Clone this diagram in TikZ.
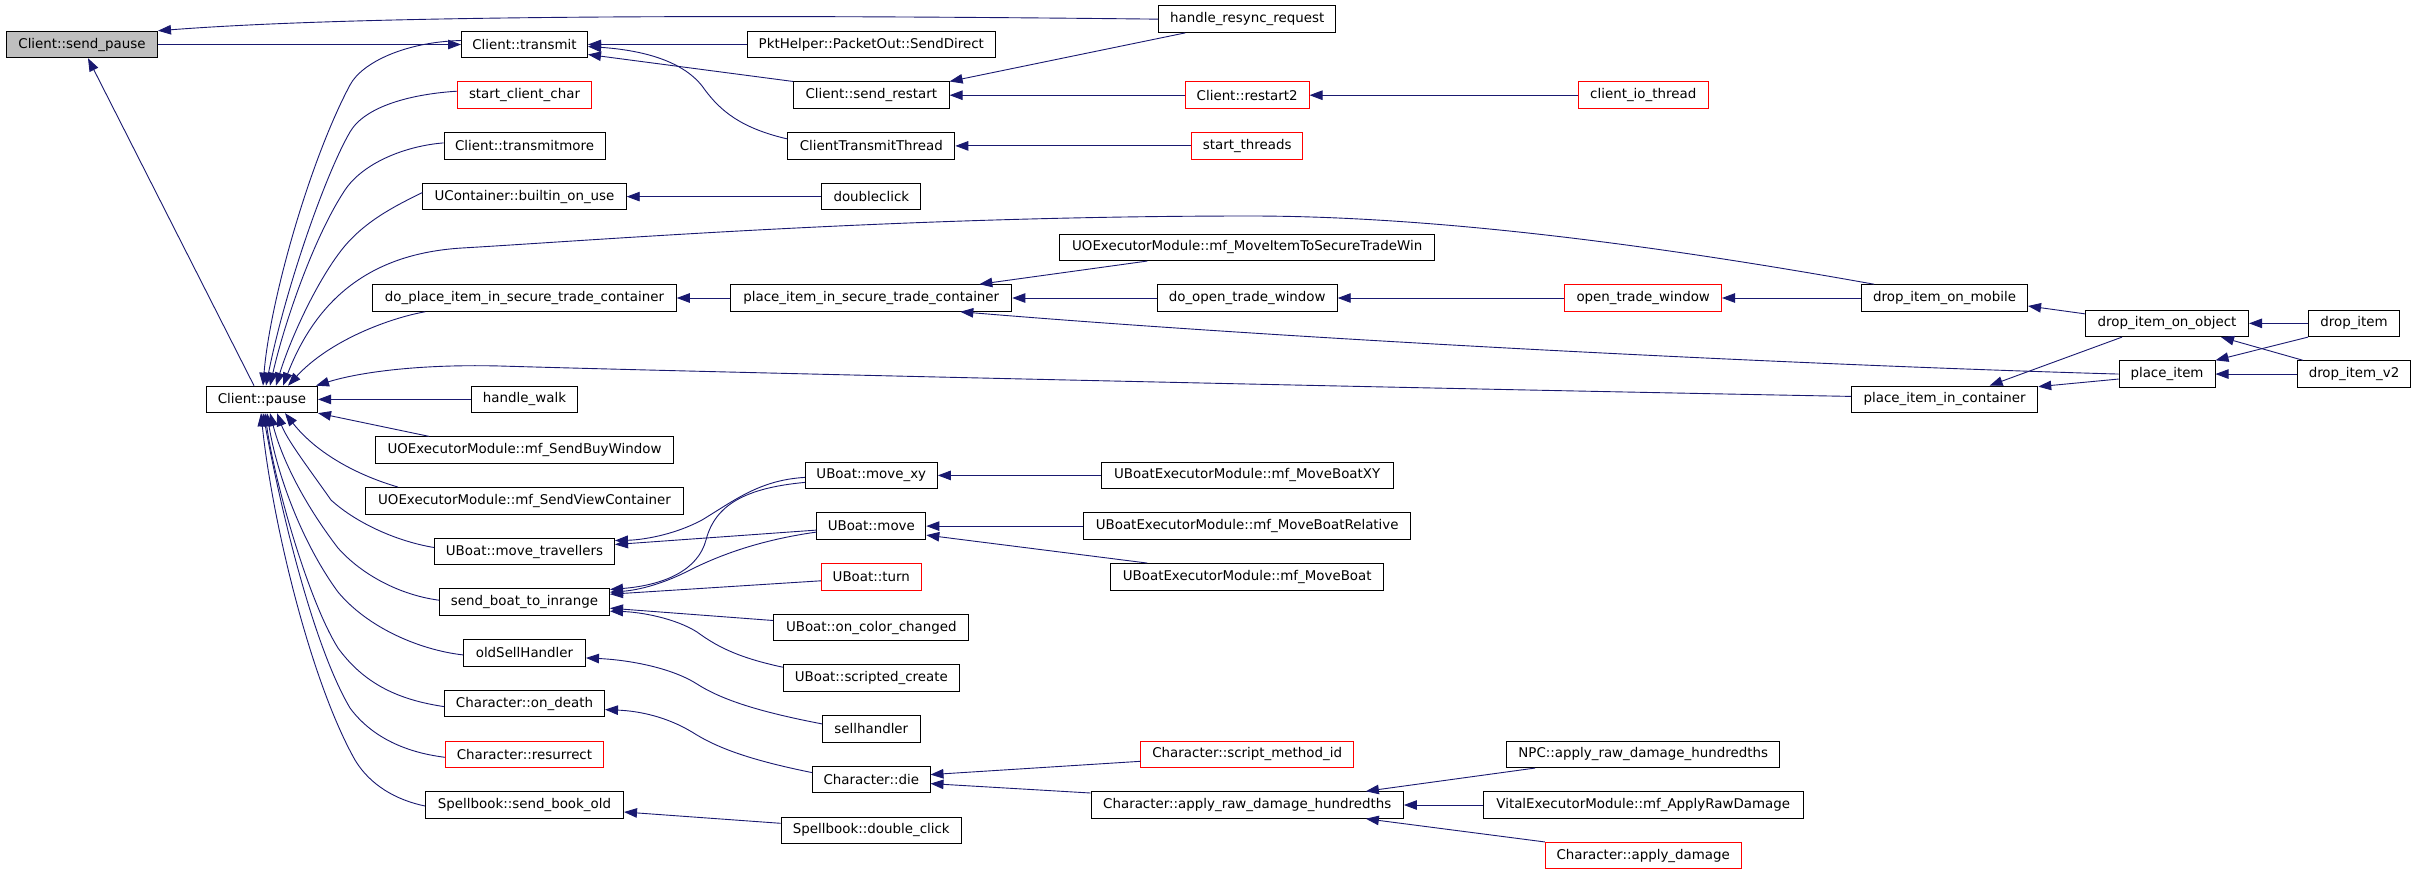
\documentclass[tikz,border=0pt]{standalone}
\usepackage{fontspec}
\newfontfamily\dgfont{DejaVu Sans}
\usetikzlibrary{arrows.meta,calc}
\definecolor{edgecol}{RGB}{25,25,112}
\definecolor{rootfill}{RGB}{191,191,191}
\begin{document}
\begin{tikzpicture}[x=1pt,y=-1pt,
  box/.style={draw=black, line width=1pt, rectangle, minimum height=26.5pt, inner sep=0pt, font={\dgfont\fontsize{13.4}{15}\selectfont}, text=black},
  redbox/.style={box, draw=red},
  rootbox/.style={box, fill=rootfill},
  edge/.style={draw=edgecol, line width=0.9pt, -{Triangle[length=13pt,width=9.5pt]}}]
\fill[white] (0,0) rectangle (2416,873);
\useasboundingbox (0,0) rectangle (2416,873);

% column A/B
\node[rootbox, minimum width=151pt] (sp) at (82,44.5) {Client::send\_pause};
\node[box, minimum width=111pt] (pause) at (262,399.4) {Client::pause};
% column C
\node[box, minimum width=126pt] (tr) at (524.5,44.5) {Client::transmit};
\node[redbox, minimum width=134pt] (scc) at (524.5,95.2) {start\_client\_char};
\node[box, minimum width=161pt] (tm) at (524.5,145.9) {Client::transmitmore};
\node[box, minimum width=203.4pt] (bou) at (524.5,196.6) {UContainer::builtin\_on\_use};
\node[box, minimum width=303.5pt] (dp) at (524.5,298) {do\_place\_item\_in\_secure\_trade\_container};
\node[box, minimum width=106pt] (hw) at (524.5,399.4) {handle\_walk};
\node[box, minimum width=298pt] (sbw) at (524.5,450.1) {UOExecutorModule::mf\_SendBuyWindow};
\node[box, minimum width=318pt] (svc) at (524.5,500.8) {UOExecutorModule::mf\_SendViewContainer};
\node[box, minimum width=180pt] (mt) at (524.5,551.5) {UBoat::move\_travellers};
\node[box, minimum width=170pt] (sb) at (524.5,602.2) {send\_boat\_to\_inrange};
\node[box, minimum width=122pt] (os) at (524.5,652.9) {oldSellHandler};
\node[box, minimum width=160pt] (od) at (524.5,703.6) {Character::on\_death};
\node[redbox, minimum width=158pt] (res) at (524.5,754.3) {Character::resurrect};
\node[box, minimum width=198pt] (sbo) at (524.5,805) {Spellbook::send\_book\_old};
% column D
\node[box, minimum width=248pt] (pkt) at (871.3,44.5) {PktHelper::PacketOut::SendDirect};
\node[box, minimum width=155.6pt] (sr) at (871.3,95.2) {Client::send\_restart};
\node[box, minimum width=167pt] (ctt) at (871.3,145.9) {ClientTransmitThread};
\node[box, minimum width=99pt] (dc) at (871.3,196.6) {doubleclick};
\node[box, minimum width=281pt] (pist) at (871.3,298) {place\_item\_in\_secure\_trade\_container};
\node[box, minimum width=132pt] (mxy) at (871.3,475.4) {UBoat::move\_xy};
\node[box, minimum width=109pt] (mv) at (871.3,526.1) {UBoat::move};
\node[redbox, minimum width=100pt] (turn) at (871.3,576.8) {UBoat::turn};
\node[box, minimum width=195.3pt] (occ) at (871.3,627.5) {UBoat::on\_color\_changed};
\node[box, minimum width=176pt] (sc) at (871.3,678.2) {UBoat::scripted\_create};
\node[box, minimum width=97.4pt] (sh) at (871.3,728.9) {sellhandler};
\node[box, minimum width=117.4pt] (die) at (871.3,779.6) {Character::die};
\node[box, minimum width=180.3pt] (dbc) at (871.3,830.3) {Spellbook::double\_click};
% column E
\node[box, minimum width=177pt] (hr) at (1247.2,19.15) {handle\_resync\_request};
\node[redbox, minimum width=123.6pt] (r2) at (1247.2,95.2) {Client::restart2};
\node[redbox, minimum width=111.5pt] (st) at (1247.2,145.9) {start\_threads};
\node[box, minimum width=375pt] (mi) at (1247.2,247.3) {UOExecutorModule::mf\_MoveItemToSecureTradeWin};
\node[box, minimum width=180pt] (dot) at (1247.2,298) {do\_open\_trade\_window};
\node[box, minimum width=291.6pt] (mbxy) at (1247.2,475.4) {UBoatExecutorModule::mf\_MoveBoatXY};
\node[box, minimum width=327.3pt] (mbr) at (1247.2,526.1) {UBoatExecutorModule::mf\_MoveBoatRelative};
\node[box, minimum width=273.3pt] (mb) at (1247.2,576.8) {UBoatExecutorModule::mf\_MoveBoat};
\node[redbox, minimum width=212.5pt] (smi) at (1247.2,754.3) {Character::script\_method\_id};
\node[box, minimum width=312.3pt] (ar) at (1247.2,805) {Character::apply\_raw\_damage\_hundredths};
% column F
\node[redbox, minimum width=129.7pt] (cio) at (1643.2,95.2) {client\_io\_thread};
\node[redbox, minimum width=156.6pt] (ot) at (1643.2,298) {open\_trade\_window};
\node[box, minimum width=273.4pt] (npc) at (1643.2,754.3) {NPC::apply\_raw\_damage\_hundredths};
\node[box, minimum width=319.8pt] (vit) at (1643.2,805) {VitalExecutorModule::mf\_ApplyRawDamage};
\node[redbox, minimum width=195.7pt] (ad) at (1643.2,855.7) {Character::apply\_damage};
% column G
\node[box, minimum width=165.8pt] (dim) at (1944.6,298) {drop\_item\_on\_mobile};
\node[box, minimum width=186.2pt] (pic) at (1944.6,399.4) {place\_item\_in\_container};
% column H
\node[box, minimum width=163pt] (dio) at (2167,323.35) {drop\_item\_on\_object};
\node[box, minimum width=96pt] (pi) at (2167,374.05) {place\_item};
% column I
\node[box, minimum width=91pt] (di) at (2354,323.35) {drop\_item};
\node[box, minimum width=113pt] (div2) at (2354,374.05) {drop\_item\_v2};

% ---- upper edges
\draw[edge] (hr.west) .. controls (700,14) and (350,16) .. (sp.north east);
\draw[edge] (sp.east) -- (tr.west);
\draw[edge] ($(pause.north)+(-8,0)$) -- ($(sp.south)+(6,0)$);
\draw[edge] (pkt.west) -- (tr.east);
\draw[edge] (sr.north west) -- ($(tr.east)+(0,10)$);
\draw[edge] ($(ctt.west)+(0,-7)$) .. controls (740,128) and (720,110) .. (705,90) .. controls (685,60) and (640,50) .. ($(tr.east)+(0,2)$);
\draw[edge] ($(hr.south west)+(27,0)$) -- (sr.north east);
\draw[edge] (r2.west) -- (sr.east);
\draw[edge] (cio.west) -- (r2.east);
\draw[edge] (st.west) -- (ctt.east);
\draw[edge] (dc.west) -- (bou.east);

% ---- into Client::pause from above
\draw[edge] ($(tr.west)+(0,-4)$) .. controls (405,42) and (362,62.5) .. (350,85) .. controls (310,160) and (270,300) .. ($(pause.north)+(1,0)$);
\draw[edge] ($(scc.west)+(0,-4)$) .. controls (412,94) and (365,106) .. (350,132) .. controls (325,175) and (285,290) .. ($(pause.north)+(4,0)$);
\draw[edge] ($(tm.west)+(0,-3)$) .. controls (405,146) and (363,163) .. (345,190) .. controls (315,235) and (285,320) .. ($(pause.north)+(8,0)$);
\draw[edge] ($(bou.west)+(0,-4)$) .. controls (395,206) and (362.5,222) .. (340,252) .. controls (315,285) and (290,340) .. ($(pause.north)+(14,0)$);
\draw[edge] ($(dim.north west)+(13,0)$) .. controls (1600,235) and (1400,216) .. (1250,216) .. controls (900,216) and (600,240) .. (462,248) .. controls (380,253) and (320,290) .. ($(pause.north)+(21,0)$);
\draw[edge] ($(dp.south west)+(53,0)$) .. controls (390,318) and (330,340) .. ($(pause.north)+(26,0)$);
\draw[edge] ($(pic.west)+(0,-3)$) .. controls (1400,388) and (700,372) .. (500,366) .. controls (420,364) and (360,372) .. ($(pause.north east)+(-2,0)$);

% ---- trade / drop area
\draw[edge] (pi.west) .. controls (1800,365) and (1300,340) .. ($(pist.south east)+(-52,0)$);
\draw[edge] ($(mi.south)+(-100,0)$) -- ($(pist.north)+(108,0)$);
\draw[edge] (pist.west) -- (dp.east);
\draw[edge] (dot.west) -- (pist.east);
\draw[edge] (ot.west) -- (dot.east);
\draw[edge] (dim.west) -- (ot.east);
\draw[edge] ($(dio.west)+(0,-9.5)$) -- ($(dim.east)+(0,8)$);
\draw[edge] ($(dio.south)+(-45,0)$) -- ($(pic.north)+(45,0)$);
\draw[edge] ($(pi.west)+(0,5)$) -- ($(pic.north east)+(0,1)$);
\draw[edge] (di.west) -- (dio.east);
\draw[edge] ($(div2.north west)+(6,0)$) -- ($(dio.south east)+(-28,0)$);
\draw[edge] (di.south west) -- (pi.north east);
\draw[edge] (div2.west) -- (pi.east);

% ---- into Client::pause from below
\draw[edge] (hw.west) -- (pause.east);
\draw[edge] ($(sbw.north west)+(54,0)$) -- (pause.south east);
\draw[edge] ($(svc.north west)+(33,0)$) .. controls (360,476) and (318,455) .. ($(pause.south)+(23,0)$);
\draw[edge] ($(mt.west)+(0,-4)$) .. controls (395,541) and (355,522) .. (331,500) .. controls (310,470) and (287,440) .. ($(pause.south)+(15,0)$);
\draw[edge] ($(sb.west)+(0,-2)$) .. controls (400,595) and (362,575) .. (338,548) .. controls (305,505) and (282,460) .. ($(pause.south)+(8,0)$);
\draw[edge] ($(os.west)+(0,2)$) .. controls (420,650) and (368,628) .. (338,592) .. controls (300,540) and (276,470) .. ($(pause.south)+(5,0)$);
\draw[edge] ($(od.west)+(0,3)$) .. controls (400,700) and (365,685) .. (338,648) .. controls (308,600) and (274,480) .. ($(pause.south)+(3,0)$);
\draw[edge] ($(res.west)+(0,3)$) .. controls (402,752) and (370,735) .. (350,708) .. controls (310,640) and (277,490) .. ($(pause.south)+(1,0)$);
\draw[edge] ($(sbo.west)+(0,1)$) .. controls (396,800) and (370,785) .. (355,760) .. controls (310,680) and (272,520) .. ($(pause.south)+(-1,0)$);

% ---- boat area
\draw[edge] ($(mxy.west)+(0,2)$) .. controls (760,480) and (735,500) .. (702,520) .. controls (672,536) and (640,540) .. ($(mt.east)+(0,-11)$);
\draw[edge] ($(mv.west)+(0,4)$) -- ($(mt.east)+(0,-7)$);
\draw[edge] ($(mxy.west)+(0,7)$) .. controls (745,488) and (715,505) .. (706,540) .. controls (698,570) and (665,585) .. ($(sb.east)+(0,-12.7)$);
\draw[edge] ($(mv.west)+(0,6)$) .. controls (760,540) and (720,555) .. (690,570) .. controls (665,583) and (640,590) .. ($(sb.east)+(0,-10)$);
\draw[edge] ($(turn.west)+(0,4)$) -- ($(sb.east)+(0,-8)$);
\draw[edge] ($(occ.west)+(0,-7)$) -- ($(sb.east)+(0,6)$);
\draw[edge] ($(sc.west)+(0,-11)$) .. controls (735,657) and (715,645) .. (697,632) .. controls (675,618) and (640,612) .. ($(sb.east)+(0,9)$);
\draw[edge] (mbxy.west) -- (mxy.east);
\draw[edge] (mbr.west) -- (mv.east);
\draw[edge] ($(mb.north)+(-100,0)$) -- ($(mv.east)+(0,9)$);

% ---- character / spellbook area
\draw[edge] ($(sh.west)+(0,-5)$) .. controls (760,712) and (722,700) .. (697,684) .. controls (672,668) and (630,660) .. ($(os.east)+(0,5)$);
\draw[edge] ($(die.west)+(0,-7)$) .. controls (750,760) and (717,748) .. (692,732) .. controls (667,717) and (640,711) .. ($(od.east)+(0,6)$);
\draw[edge] ($(dbc.west)+(0,-7)$) -- ($(sbo.east)+(0,7)$);
\draw[edge] ($(smi.west)+(0,7)$) -- ($(die.east)+(0,-5)$);
\draw[edge] ($(ar.west)+(0,-12)$) -- ($(die.east)+(0,4)$);
\draw[edge] ($(npc.south west)+(29,0)$) -- ($(ar.north east)+(-38,0)$);
\draw[edge] (vit.west) -- (ar.east);
\draw[edge] (ad.north west) -- ($(ar.south east)+(-38,0)$);
\end{tikzpicture}
\end{document}
